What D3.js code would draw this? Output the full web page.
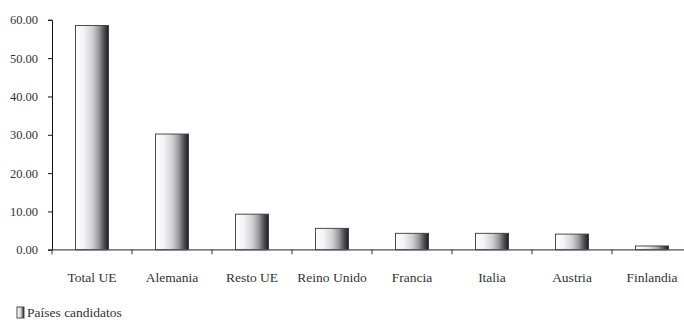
<!DOCTYPE html>
<html>
<head>
<meta charset="utf-8">
<script src="https://cdn.jsdelivr.net/npm/d3@7/dist/d3.min.js"></script>
<style>
  html, body { margin: 0; padding: 0; background: #fff; }
  svg { display: block; }
</style>
</head>
<body>
<svg id="chart" width="684" height="322"></svg>
<script>
// Categories and values (share, %)
const categories = ["Total UE", "Alemania", "Resto UE", "Reino Unido", "Francia", "Italia", "Austria", "Finlandia"];
const values = [58.5, 30.2, 9.3, 5.6, 4.3, 4.3, 4.1, 1.0];
const yTicks = [0, 10, 20, 30, 40, 50, 60];
const seriesName = "Países candidatos";

const FONT = "'Liberation Serif'";
const W = 684, H = 322;
const svg = d3.select("#chart");

const x0 = 52, x1 = 692, yTop = 19.8, yBase = 249.8;

const x = d3.scaleBand().domain(categories).range([x0, x1]).paddingInner(0.5875).paddingOuter(0.29375);
const y = d3.scaleLinear().domain([0, 60]).range([yBase, yTop]);

// Cylinder-like horizontal shading for the bars
const defs = svg.append("defs");
const grad = defs.append("linearGradient").attr("id", "barShade").attr("x1", "0%").attr("x2", "100%").attr("y1", "0%").attr("y2", "0%");
[[0, "#ffffff"], [0.25, "#f3f3f4"], [0.5, "#d2d2d6"], [0.7, "#9a9aa0"], [0.85, "#55555a"], [1, "#1c1c1c"]]
  .forEach(([o, c]) => grad.append("stop").attr("offset", o).attr("stop-color", c));

// Y axis
const yAxis = d3.axisLeft(y).tickValues(yTicks).tickFormat(d3.format(".2f")).tickSize(4).tickPadding(10);
const gy = svg.append("g").attr("transform", `translate(${x0},0)`).call(yAxis);
gy.select(".domain").attr("stroke", "#111").attr("stroke-width", 1);
gy.selectAll(".tick line").attr("stroke", "#111");
gy.selectAll(".tick text").attr("fill", "#333").style("font-family", FONT).style("font-size", "12.5px");

// Bars
svg.append("g").selectAll("rect").data(categories).join("rect")
  .attr("x", d => x(d))
  .attr("y", (d, i) => y(values[i]))
  .attr("width", x.bandwidth())
  .attr("height", (d, i) => y(0) - y(values[i]))
  .attr("fill", "url(#barShade)")
  .attr("stroke", "#3a3a3e")
  .attr("stroke-width", 0.9);

// X axis: baseline with tick marks between categories
const step = x.step();
const gx = svg.append("g");
gx.append("line").attr("x1", x0 - 4).attr("x2", W).attr("y1", yBase).attr("y2", yBase)
  .attr("stroke", "#4e4e5e").attr("stroke-width", 1.3);
gx.selectAll("line.tk").data(d3.range(categories.length)).join("line").attr("class", "tk")
  .attr("x1", i => x0 + i * step).attr("x2", i => x0 + i * step)
  .attr("y1", yBase).attr("y2", yBase + 4.5)
  .attr("stroke", "#333").attr("stroke-width", 1);
gx.selectAll("text").data(categories).join("text")
  .style("font-family", FONT).style("font-size", "13.5px")
  .attr("fill", "#333")
  .attr("text-anchor", "middle")
  .attr("y", 282)
  .text(d => d)
  .attr("x", function(d) {
    const cx = x(d) + x.bandwidth() / 2;
    const half = this.getComputedTextLength() / 2;
    return Math.min(cx, W - 1 - half);
  });

// Legend
const lg = svg.append("g").attr("transform", "translate(17,307)");
lg.append("rect").attr("width", 7).attr("height", 11).attr("fill", "url(#barShade)")
  .attr("stroke", "#3a3a3e").attr("stroke-width", 0.9);
lg.append("text").attr("x", 10).attr("y", 10)
  .style("font-family", FONT).style("font-size", "13.5px")
  .attr("fill", "#333").text(seriesName);
</script>
</body>
</html>
